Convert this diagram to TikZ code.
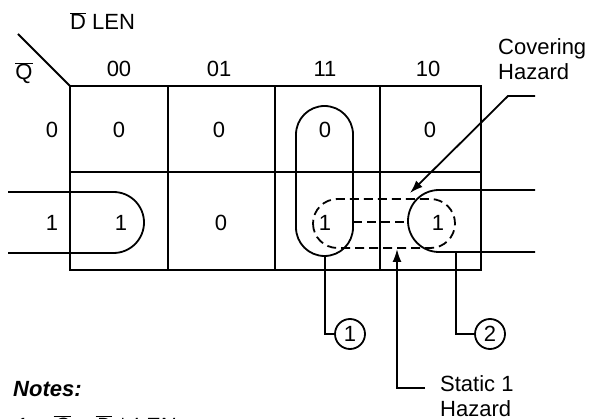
\documentclass[tikz,border=0pt]{standalone}
\usepackage{fontspec}
\setmainfont{Liberation Sans}
\usetikzlibrary{arrows.meta}
\newcommand{\ovl}[1]{$\overline{\mbox{#1}}$}

\begin{document}
\begin{tikzpicture}[
    x=1pt, y=-1pt,
    >={Latex[length=13pt,width=9pt]},
    font=\fontsize{22}{25}\selectfont,
    gridline/.style={line width=1.8pt},
    loopline/.style={line width=1.8pt, rounded corners=#1},
    hazloop/.style={
        line width=1.8pt, dash pattern=on 9pt off 5pt,
        rounded corners=24.5pt
    },
    lead/.style={line width=1.8pt},
    callout/.style={->, line width=1.8pt},
    tag/.style={
        circle, draw, line width=1.8pt,
        minimum size=30pt, inner sep=0pt
    },
    celltext/.style={anchor=base},
    note/.style={anchor=north west, inner sep=0pt, align=left}
]
\useasboundingbox (0,0) rectangle (591,419);

% — K-map grid —
\draw[gridline] (70,86) rectangle (481,270);
\draw[gridline] (70,172) -- (481,172);
\foreach \x in {168,275,380}
    \draw[gridline] (\x,86) -- (\x,270);
\draw[gridline] (18,34) -- (70,86);

% — Variable and index labels —
\node[anchor=base west, inner sep=0pt] (vars) at (70,30) {\ovl{D} LEN};
\node[anchor=base] (qbar) at (24,80) {\ovl{Q}};
\foreach \lbl/\x [count=\i] in {00/119,01/219,11/325,10/428}
    \node[celltext] (col\i) at (\x,77) {\lbl};
\node[celltext] (row0) at (52,138) {0};
\node[celltext] (row1) at (52,231) {1};

% — Cell values —
\foreach \x/\v [count=\i] in {119/0,219/0,325/0,430/0}
    \node[celltext] (rzero\i) at (\x,138) {\v};
\foreach \x/\v [count=\i] in {121/1,221/0,325/1,438/1}
    \node[celltext] (rone\i) at (\x,231) {\v};

% — Groupings —
\draw[loopline=28.5pt] (296,106) rectangle (353,256);
\draw[loopline=30.5pt] (8,192) -- (144,192) -- (144,253) -- (8,253);
\draw[loopline=31pt] (535,190) -- (408,190) -- (408,252) -- (535,252);
\coordinate (loopAbot) at (325,256);
\coordinate (loopAright) at (353,222);
\coordinate (loopCleft) at (408,222);
\coordinate (loopCbot) at (456,252);

% — Hazard cover (dashed) —
\draw[hazloop] (313,199) rectangle (455,248);
\draw[line width=1.8pt, dash pattern=on 9pt off 5pt] (loopAright) -- (loopCleft);

% — Numbered tags —
\node[tag] (tag1) at (350,334) {1};
\node[tag] (tag2) at (490,334) {2};
\draw[lead] (loopAbot) |- (tag1);
\draw[lead] (loopCbot) |- (tag2);

% — Callouts —
\node[note] (covtext) at (498,38) {Covering\\Hazard};
\coordinate (covend) at (535,96);
\coordinate (covtip) at (410,193);
\draw[callout] (covend) -- ++(-27,0) -- (covtip);

\node[note] (stattext) at (440,375) {Static 1\\Hazard};
\coordinate (statend) at (425,388);
\coordinate (stattip) at (397,249);
\draw[callout] (statend) -| (stattip);

% — Notes —
\node[anchor=base west, inner sep=0pt] (notes) at (13,396)
    {\bfseries\itshape Notes:};
\node[anchor=base west, inner sep=0pt] (noteone) at (15,433)
    {\itshape 1.\hspace{20pt}\ovl{Q} = \ovl{D} * LEN};

\end{tikzpicture}
\end{document}
